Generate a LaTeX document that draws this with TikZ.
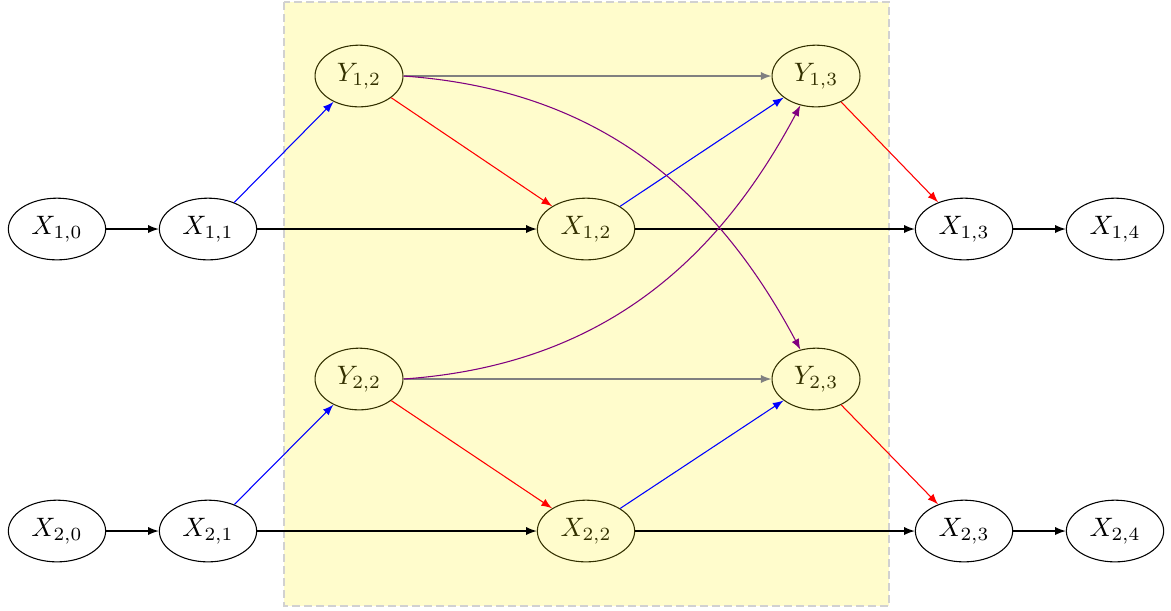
\documentclass[tikz,border=0pt]{standalone}
\usetikzlibrary{shapes.geometric,arrows}
\definecolor{curvecol}{RGB}{128,0,128}
\begin{document}
\begin{tikzpicture}[x=0.375pt,y=-0.375pt,
  var/.style={ellipse,draw},
  flow/.style={->,>=latex},
  blueflow/.style={flow,blue},
  redflow/.style={flow,red},
  grayflow/.style={flow,gray},
  purpleflow/.style={flow,curvecol},
  region/.style={fill=yellow,fill opacity=0.2,draw=black!18,draw opacity=1,line width=0.6pt,dash pattern=on 3pt off 1.5pt}]
\useasboundingbox (0,0) rectangle (1171,610);
\node[var] (x10) at (57,229) {$X_{1,0}$};
\node[var] (x11) at (208,229) {$X_{1,1}$};
\node[var] (x12) at (586,229) {$X_{1,2}$};
\node[var] (x13) at (964,229) {$X_{1,3}$};
\node[var] (x14) at (1115,229) {$X_{1,4}$};
\node[var] (x20) at (57,531) {$X_{2,0}$};
\node[var] (x21) at (208,531) {$X_{2,1}$};
\node[var] (x22) at (586,531) {$X_{2,2}$};
\node[var] (x23) at (964,531) {$X_{2,3}$};
\node[var] (x24) at (1115,531) {$X_{2,4}$};
\node[var] (y12) at (359,76) {$Y_{1,2}$};
\node[var] (y13) at (816,76) {$Y_{1,3}$};
\node[var] (y22) at (359,379) {$Y_{2,2}$};
\node[var] (y23) at (816,379) {$Y_{2,3}$};
\path[region] (284,2) rectangle (889,606);
\draw[flow] (x10) -- (x11);
\draw[flow] (x11) -- (x12);
\draw[flow] (x12) -- (x13);
\draw[flow] (x13) -- (x14);
\draw[flow] (x20) -- (x21);
\draw[flow] (x21) -- (x22);
\draw[flow] (x22) -- (x23);
\draw[flow] (x23) -- (x24);
\draw[blueflow] (x11) -- (y12);
\draw[redflow] (y12) -- (x12);
\draw[grayflow] (y12) -- (y13);
\draw[blueflow] (x12) -- (y13);
\draw[redflow] (y13) -- (x13);
\draw[blueflow] (x21) -- (y22);
\draw[redflow] (y22) -- (x22);
\draw[grayflow] (y22) -- (y23);
\draw[blueflow] (x22) -- (y23);
\draw[redflow] (y23) -- (x23);
\draw[purpleflow] (y12.east) to[out=-4,in=118] (y23);
\draw[purpleflow] (y22.east) to[out=4,in=-118] (y13);
\end{tikzpicture}
\end{document}
